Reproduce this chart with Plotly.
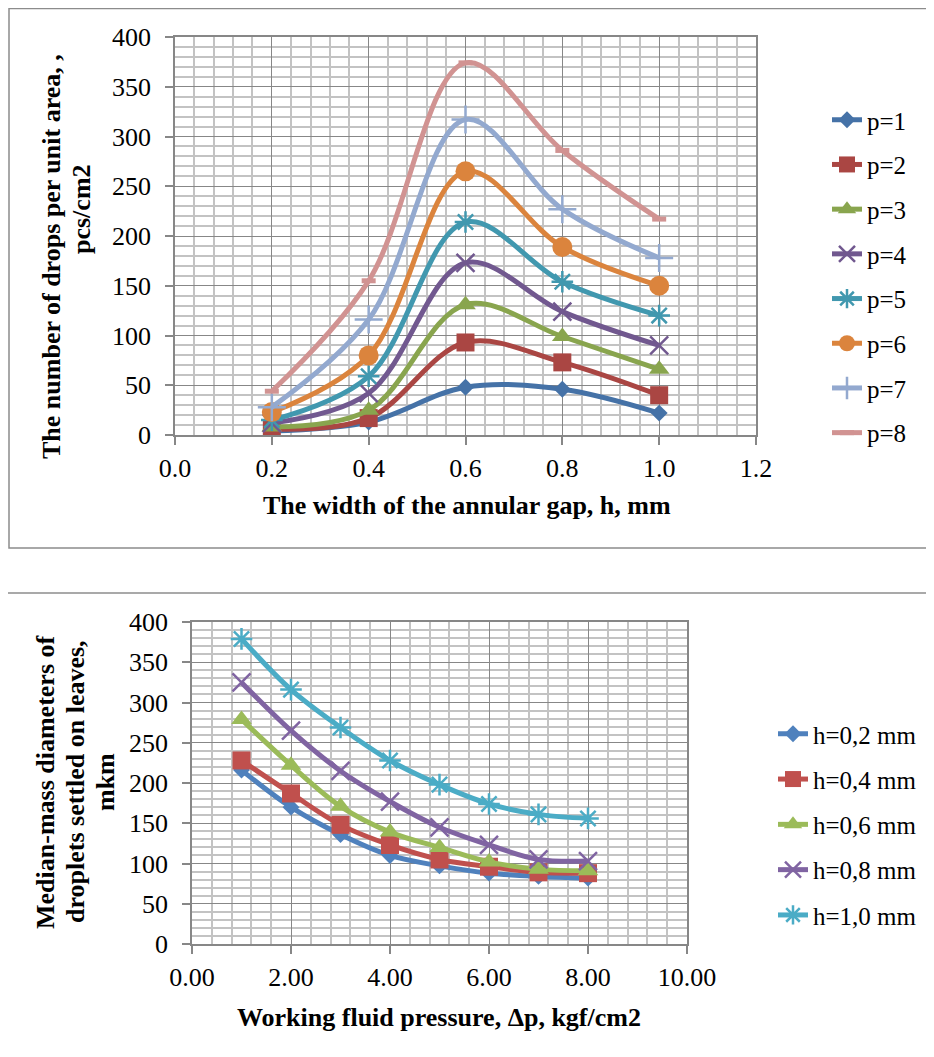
import plotly.graph_objects as go

# The page body has an 8px margin, so the figure is sized to fit the window
OFF = 8
W, H = 934 - OFF, 1057 - OFF
FONT = "Liberation Serif"

# ---------------- Top chart data ----------------
gap_h = [0.2, 0.4, 0.6, 0.8, 1.0]
p_names = ["p=1", "p=2", "p=3", "p=4", "p=5", "p=6", "p=7", "p=8"]
p1 = [4, 13, 48, 46, 22]
p2 = [6, 17, 93, 73, 40]
p3 = [8, 25, 131, 99, 66]
p4 = [12, 42, 173, 124, 90]
p5 = [15, 59, 214, 154, 120]
p6 = [23, 80, 265, 189, 150]
p7 = [28, 116, 317, 227, 178]
p8 = [44, 155, 374, 286, 217]
top_series = [p1, p2, p3, p4, p5, p6, p7, p8]

# ---------------- Bottom chart data ----------------
pressure = [1, 2, 3, 4, 5, 6, 7, 8]
h_names = ["h=0,2 mm", "h=0,4 mm", "h=0,6 mm", "h=0,8 mm", "h=1,0 mm"]
h02 = [216, 170, 136, 110, 97, 88, 84, 82]
h04 = [228, 187, 148, 123, 105, 96, 89, 88]
h06 = [279, 222, 171, 139, 120, 102, 93, 91]
h08 = [325, 265, 215, 177, 145, 123, 105, 103]
h10 = [379, 316, 269, 228, 198, 174, 161, 156]
bottom_series = [h02, h04, h06, h08, h10]

# ---------------- Styles ----------------
top_colors = ["#4572A7", "#AA4643", "#89A54E", "#71588F", "#4198AF", "#DB843D", "#93A9CF", "#D19392"]
top_symbols = ["diamond", "square", "triangle-up", "x-thin-open", "asterisk-open", "circle", "cross-thin-open", "line-ew-open"]
top_sizes = [13, 18, 18, 18, 18, 20, 20, 10]

bot_colors = ["#4F81BD", "#C0504D", "#9BBB59", "#8064A2", "#4BACC6"]
bot_symbols = ["diamond", "square", "triangle-up", "x-thin-open", "asterisk-open"]
bot_sizes = [13, 18, 18, 18, 18]


def px_x(v):
    return (v - OFF) / W


def px_y(v):
    return 1 - (v - OFF) / H


def marker_for(sym, size, color):
    open_sym = sym.endswith("-open")
    return dict(symbol=sym, size=size, color=color,
                line=dict(width=(2.5 if sym != "line-ew-open" else 5) if open_sym else 0, color=color))


fig = go.Figure()

for i, (name, vals) in enumerate(zip(p_names, top_series)):
    fig.add_trace(go.Scatter(
        x=gap_h, y=vals, name=name, mode="lines+markers",
        line=dict(shape="spline", smoothing=1.0, width=5, color=top_colors[i]),
        marker=marker_for(top_symbols[i], top_sizes[i], top_colors[i]),
        xaxis="x", yaxis="y", legend="legend", legendgroup="t%d" % i,
    ))

for i, (name, vals) in enumerate(zip(h_names, bottom_series)):
    fig.add_trace(go.Scatter(
        x=pressure, y=vals, name=name, mode="lines+markers",
        line=dict(shape="spline", smoothing=1.0, width=5, color=bot_colors[i]),
        marker=marker_for(bot_symbols[i], bot_sizes[i], bot_colors[i]),
        xaxis="x2", yaxis="y2", legend="legend2", legendgroup="b%d" % i,
    ))

MAJOR = "#878787"
MINOR = "#C3C3C3"
tickfont = dict(family=FONT, size=26, color="black")


def axis_common():
    return dict(showgrid=True, gridcolor=MAJOR, gridwidth=1.4,
                showline=True, linecolor=MAJOR, linewidth=1.5, mirror=True,
                ticks="outside", ticklen=8, tickwidth=1.5, tickcolor=MAJOR,
                tickfont=tickfont, zeroline=False, fixedrange=True, automargin=False)


xa = axis_common()
xa.update(domain=[px_x(175), px_x(756)], range=[0, 1.2], dtick=0.2, tick0=0,
          tickformat=".1f", anchor="y", ticklabelstandoff=1,
          minor=dict(dtick=0.04, showgrid=True, gridcolor=MINOR, gridwidth=1.6, ticks=""))
ya = axis_common()
ya.update(domain=[px_y(435), px_y(37)], range=[0, 400], dtick=50, tick0=0,
          anchor="x", ticklabelstandoff=9,
          minor=dict(dtick=10, showgrid=True, gridcolor=MINOR, gridwidth=1.6, ticks=""))

xa2 = axis_common()
xa2.update(domain=[px_x(192), px_x(687)], range=[0, 10], dtick=2, tick0=0,
           tickformat=".2f", anchor="y2", ticklabelstandoff=1,
           minor=dict(dtick=0.4, showgrid=True, gridcolor=MINOR, gridwidth=1.6, ticks=""))
ya2 = axis_common()
ya2.update(domain=[px_y(944), px_y(622)], range=[0, 400], dtick=50, tick0=0,
           anchor="x2", ticklabelstandoff=9,
           minor=dict(dtick=10, showgrid=True, gridcolor=MINOR, gridwidth=1.6, ticks=""))

title_font = dict(family=FONT, size=26, color="black")


def ann(text, x, y, angle=0):
    return dict(text="<b>%s</b>" % text, x=px_x(x), y=px_y(y), xref="paper", yref="paper",
                showarrow=False, textangle=angle, font=title_font,
                xanchor="center", yanchor="middle")


annotations = [
    ann("The number of drops per unit area, ,", 51, 257, -90),
    ann("pcs/cm2", 81, 209, -90),
    ann("The width of the annular gap, h, mm", 467, 505),
    ann("Median-mass diameters of", 45, 782, -90),
    ann("droplets settled on leaves,", 75, 782, -90),
    ann("mkm", 105, 782, -90),
    ann("Working fluid pressure, Δp, kgf/cm2", 439, 1017),
]

shapes = [
    dict(type="rect", xref="paper", yref="paper", x0=px_x(9), x1=1.05, y0=px_y(548), y1=px_y(8.5),
         line=dict(color="#8C8C8C", width=1.5), fillcolor="rgba(0,0,0,0)", layer="below"),
    dict(type="line", xref="paper", yref="paper", x0=-0.02, x1=1.02, y0=px_y(593), y1=px_y(593),
         line=dict(color="#8C8C8C", width=1.5)),
]

legend_font = dict(family=FONT, size=25, color="black")

fig.update_layout(
    width=W, height=H,
    margin=dict(l=0, r=0, t=0, b=0, pad=0, autoexpand=False),
    paper_bgcolor="white", plot_bgcolor="white",
    xaxis=xa, yaxis=ya, xaxis2=xa2, yaxis2=ya2,
    annotations=annotations, shapes=shapes,
    legend=dict(x=px_x(827), y=px_y(97), xanchor="left", yanchor="top",
                font=legend_font, bgcolor="rgba(0,0,0,0)", traceorder="grouped",
                tracegroupgap=9.2, itemwidth=30),
    legend2=dict(x=px_x(773), y=px_y(711), xanchor="left", yanchor="top",
                 font=legend_font, bgcolor="rgba(0,0,0,0)", traceorder="grouped",
                 tracegroupgap=9.8, itemwidth=30),
    showlegend=True,
)

fig.write_html("out.html")
